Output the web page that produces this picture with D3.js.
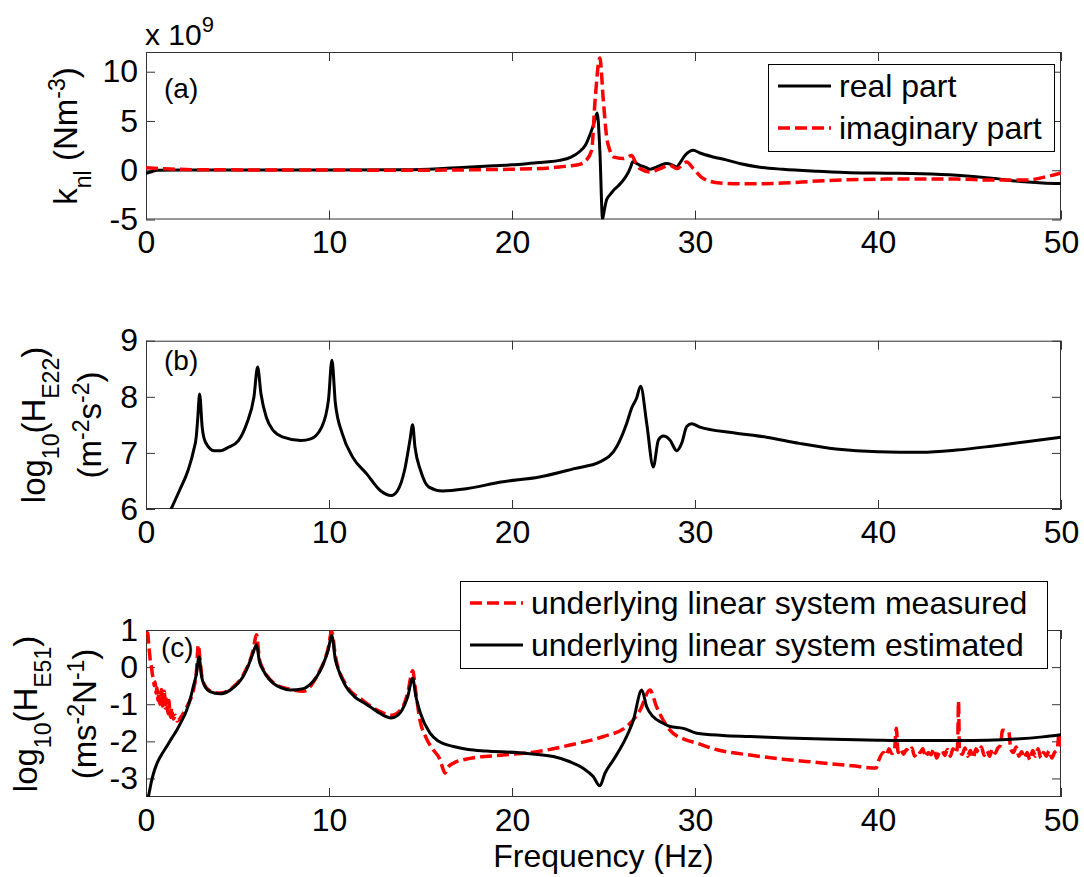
<!DOCTYPE html>
<html>
<head>
<meta charset="utf-8">
<script src="https://cdn.jsdelivr.net/npm/d3@7"></script>
<style>
  body { margin: 0; background: #fff; }
  svg text { font-family: "Liberation Sans", Arial, Helvetica, sans-serif; }
</style>
</head>
<body>
<svg id="fig" width="1084" height="877"></svg>
<script>
// ---- data -------------------------------------------------------------
const xTicks = [0, 10, 20, 30, 40, 50];
const yTicksA = [-5, 0, 5, 10];
const yTicksB = [6, 7, 8, 9];
const yTicksC = [-3, -2, -1, 0, 1];

// (a) nonlinear coefficient k_nl, units of 1e9 N m^-3
const freqReal = [0, 0.3, 0.6, 2, 5, 10, 14, 15, 16, 17, 18, 19, 20, 21, 21.5, 22, 22.6, 23.2, 23.7, 24.0, 24.26, 24.45, 24.54, 24.66, 24.8, 24.95, 25.05, 25.17, 25.35, 25.54, 25.8, 26.0, 26.2, 26.36, 26.5, 26.59, 26.8, 26.99, 27.3, 27.54, 27.8, 28.1, 28.45, 28.75, 29.0, 29.2, 29.45, 29.7, 29.9, 30.27, 31.0, 31.7, 32.5, 33.55, 34.8, 36.7, 38.5, 40.5, 42.4, 44.3, 46.2, 47.8, 49, 50];
const realPart = [-0.3, -0.15, 0, 0.02, 0.02, 0.02, 0.05, 0.08, 0.15, 0.25, 0.35, 0.45, 0.55, 0.7, 0.78, 0.85, 1.0, 1.3, 1.9, 2.5, 3.6, 4.6, 5.2, 5.8, 2.0, -4.95, -4.0, -3.0, -2.5, -2.05, -1.6, -1.2, -0.7, -0.2, 0.4, 0.85, 0.7, 0.5, 0.3, 0.1, 0.25, 0.5, 0.68, 0.55, 0.34, 0.8, 1.5, 1.9, 2.03, 1.75, 1.35, 1.05, 0.65, 0.3, 0.1, -0.1, -0.25, -0.3, -0.35, -0.5, -0.8, -1.15, -1.3, -1.35];
const freqImag = [0, 1, 3, 10, 15, 18, 20, 21.5, 22.6, 23.2, 23.7, 24.0, 24.35, 24.54, 24.8, 24.99, 25.17, 25.35, 25.54, 26.08, 26.3, 26.54, 26.75, 26.99, 27.54, 28.1, 28.63, 29.0, 29.55, 29.9, 30.45, 31.37, 32.9, 34.8, 36.7, 40.5, 44.3, 46.2, 48.1, 49.1, 50];
const imagPart = [0.25, 0.15, 0.05, 0.02, 0.0, 0.05, 0.1, 0.17, 0.34, 0.45, 0.6, 0.9, 2.0, 7.1, 11.4, 7.1, 3.4, 2.0, 1.35, 1.18, 1.3, 1.5, 0.8, 0.17, -0.17, 0.17, 0.51, 0.17, 0.84, 0.17, -0.84, -1.3, -1.38, -1.3, -1.1, -0.9, -0.9, -1.0, -1.0, -0.7, -0.27];

// (b) log10 of H_E22
const freqHE22 = [1.3, 1.83, 2.3, 2.6, 2.75, 2.82, 2.93, 3.07, 3.25, 3.73, 4.1, 4.5, 5.05, 5.5, 5.9, 6.1, 6.28, 6.57, 6.95, 7.5, 8.46, 9.0, 9.6, 9.97, 10.16, 10.35, 10.73, 11.3, 12.05, 12.8, 13.4, 13.75, 14.13, 14.42, 14.57, 14.7, 15.0, 15.46, 16.2, 17.5, 19.4, 21.5, 23.4, 24.8, 25.72, 26.27, 26.54, 26.8, 27.03, 27.36, 27.72, 28.0, 28.27, 28.63, 29.0, 29.27, 29.55, 29.82, 30.27, 32.1, 33.9, 35.7, 37.7, 40, 42.4, 44.3, 46.2, 48.1, 50];
const logHE22 = [5.95, 6.33, 6.69, 7.04, 7.3, 7.58, 8.05, 7.46, 7.19, 7.04, 7.04, 7.1, 7.22, 7.52, 8.0, 8.53, 8.06, 7.64, 7.4, 7.28, 7.22, 7.25, 7.46, 7.94, 8.65, 7.88, 7.34, 6.92, 6.63, 6.33, 6.24, 6.33, 6.69, 7.22, 7.5, 7.1, 6.69, 6.39, 6.32, 6.36, 6.48, 6.57, 6.72, 6.84, 7.11, 7.53, 7.8, 7.97, 8.19, 7.53, 6.75, 7.23, 7.3, 7.23, 7.04, 7.17, 7.47, 7.52, 7.46, 7.36, 7.28, 7.17, 7.07, 7.02, 7.01, 7.05, 7.12, 7.2, 7.28];

// (c) log10 of H_E51, estimated underlying linear system
const freqEst = [0.1, 0.13, 0.2, 0.28, 0.4, 0.58, 0.8, 1.13, 1.4, 1.68, 1.95, 2.22, 2.45, 2.58, 2.75, 2.9, 3.04, 3.2, 3.5, 4.04, 4.6, 5.0, 5.3, 5.6, 5.85, 6.04, 6.2, 6.4, 6.96, 7.4, 7.87, 8.6, 9.0, 9.33, 9.7, 9.95, 10.15, 10.35, 10.5, 10.9, 11.4, 11.86, 12.4, 12.8, 13.4, 13.75, 14.0, 14.3, 14.57, 14.75, 15.0, 15.52, 16.0, 16.8, 17.6, 18.6, 20.4, 22.26, 23.17, 23.9, 24.44, 24.8, 25.08, 25.54, 26.08, 26.63, 27.09, 27.36, 27.72, 28.2, 28.63, 29.36, 30.1, 31.5, 33, 35, 37, 40, 42, 44.3, 46, 47.5, 49, 50];
const estimated = [-3.6, -3.5, -3.32, -3.12, -2.88, -2.62, -2.4, -2.14, -1.92, -1.7, -1.45, -1.16, -0.8, -0.53, -0.2, 0.28, -0.26, -0.5, -0.66, -0.72, -0.62, -0.45, -0.26, 0.05, 0.38, 0.6, 0.15, -0.08, -0.44, -0.56, -0.62, -0.58, -0.45, -0.26, 0.1, 0.45, 0.85, 0.2, -0.05, -0.5, -0.8, -0.95, -1.12, -1.25, -1.37, -1.3, -1.15, -0.8, -0.3, -0.8, -1.25, -1.78, -2.0, -2.14, -2.22, -2.26, -2.31, -2.41, -2.55, -2.73, -2.95, -3.2, -2.86, -2.5, -2.05, -1.43, -0.62, -1.07, -1.34, -1.5, -1.6, -1.65, -1.78, -1.84, -1.87, -1.91, -1.94, -1.97, -1.98, -1.98, -1.97, -1.94, -1.88, -1.82];

// (c) measured underlying linear system
const freqMeas = [0.03, 0.1, 0.15, 0.2, 0.25, 0.3, 0.35, 0.4, 0.45, 0.5, 0.55, 0.6, 0.65, 0.7, 0.75, 0.8, 0.85, 0.9, 0.95, 1.0, 1.05, 1.1, 1.15, 1.2, 1.25, 1.3, 1.35, 1.4, 1.45, 1.5, 1.6, 1.7, 1.8, 1.9, 2.0, 2.2, 2.4, 2.6, 2.75, 2.86, 2.95, 3.04, 3.2, 3.5, 4.04, 4.6, 5.3, 5.85, 6.04, 6.2, 6.4, 6.96, 7.87, 8.6, 9.33, 9.95, 10.15, 10.35, 10.9, 11.86, 12.8, 13.4, 14.0, 14.3, 14.57, 14.75, 14.97, 15.3, 15.7, 16.07, 16.2, 16.34, 16.5, 16.8, 17.7, 19.5, 21.35, 23.17, 25, 26.27, 27.0, 27.54, 27.9, 28.63, 29.5, 30.1, 31.0, 33, 34.8, 36.7, 38.6, 39.9, 40.05, 40.3, 40.45, 40.6, 40.75, 40.9, 41.0, 41.1, 41.25, 41.4, 41.55, 41.7, 41.85, 42.0, 42.15, 42.3, 42.45, 42.6, 42.75, 42.9, 43.05, 43.2, 43.35, 43.5, 43.65, 43.8, 43.95, 44.1, 44.25, 44.35, 44.4, 44.45, 44.6, 44.75, 44.9, 45.05, 45.2, 45.35, 45.5, 45.65, 45.8, 45.95, 46.1, 46.25, 46.4, 46.55, 46.7, 46.8, 47.0, 47.15, 47.25, 47.4, 47.55, 47.7, 47.85, 48.0, 48.15, 48.3, 48.45, 48.6, 48.75, 48.9, 49.05, 49.2, 49.35, 49.5, 49.65, 49.8, 49.9, 50];
const measured = [0.95, 0.9, 0.6, 0.35, 0.1, 0.0, -0.2, -0.3, -0.5, -0.4, -0.7, -0.55, -0.9, -0.7, -1.0, -0.75, -0.6, -1.05, -0.8, -0.65, -1.1, -0.85, -1.0, -1.25, -0.9, -1.2, -1.35, -1.1, -1.3, -1.4, -1.3, -1.45, -1.42, -1.35, -1.28, -1.1, -0.9, -0.6, -0.15, 0.6, 0.2, -0.2, -0.48, -0.64, -0.7, -0.6, -0.22, 0.45, 0.87, 0.2, -0.05, -0.42, -0.6, -0.65, -0.25, 0.5, 0.95, 0.3, -0.45, -0.9, -1.2, -1.3, -1.1, -0.7, -0.1, -0.7, -1.43, -1.9, -2.23, -2.5, -2.7, -2.86, -2.7, -2.59, -2.46, -2.37, -2.28, -2.1, -1.87, -1.6, -1.16, -0.62, -1.07, -1.7, -1.96, -2.05, -2.2, -2.37, -2.48, -2.57, -2.66, -2.72, -2.5, -2.3, -2.38, -2.2, -2.33, -2.25, -1.65, -2.3, -2.2, -2.35, -2.22, -2.28, -2.18, -2.4, -2.26, -2.3, -2.2, -2.42, -2.3, -2.36, -2.2, -2.45, -2.3, -2.25, -2.38, -2.22, -2.4, -2.2, -2.32, -2.1, -0.92, -2.2, -2.35, -2.18, -2.4, -2.25, -2.45, -2.2, -2.3, -2.15, -2.38, -2.25, -2.4, -2.2, -2.32, -2.18, -2.1, -1.7, -1.72, -1.75, -2.2, -2.3, -2.15, -2.4, -2.28, -2.45, -2.3, -2.5, -2.25, -2.4, -2.2, -2.45, -2.3, -2.4, -2.25, -2.45, -2.3, -2.2, -1.75, -2.3];

// ---- layout -----------------------------------------------------------
const svg = d3.select('#fig');
const X0 = 146, X1 = 1061;
const FONT = 32;
const DASH = '12,5';
const x = d3.scaleLinear().domain([0, 50]).range([X0, X1]);
const zip = (fs, vs) => fs.map((f, i) => [f, vs[i]]);

function makePanel(id, top, bottom, yDomain, yTicks) {
  const y = d3.scaleLinear().domain(yDomain).range([bottom, top]);
  const g = svg.append('g').attr('class', 'panel-' + id);

  svg.append('clipPath').attr('id', 'clip-' + id)
    .append('rect').attr('x', X0).attr('y', top)
    .attr('width', X1 - X0).attr('height', bottom - top);

  const styleAxis = sel => {
    sel.select('.domain').remove();
    sel.attr('font-size', FONT).attr('font-family', null);
    sel.selectAll('line').attr('stroke', '#333').attr('stroke-width', 1);
    sel.selectAll('text').attr('fill', '#000');
  };

  g.append('g').attr('transform', `translate(0,${bottom})`)
    .call(d3.axisBottom(x).tickValues(xTicks).tickSize(-9).tickPadding(11).tickFormat(d => String(d)))
    .call(styleAxis);
  g.append('g').attr('transform', `translate(0,${top})`)
    .call(d3.axisTop(x).tickValues(xTicks).tickSize(-9).tickFormat(''))
    .call(styleAxis);
  g.append('g').attr('transform', `translate(${X0},0)`)
    .call(d3.axisLeft(y).tickValues(yTicks).tickSize(-9).tickPadding(8).tickFormat(d => String(d)))
    .call(styleAxis);
  g.append('g').attr('transform', `translate(${X1},0)`)
    .call(d3.axisRight(y).tickValues(yTicks).tickSize(-9).tickFormat(''))
    .call(styleAxis);

  g.append('rect').attr('x', X0 + 0.5).attr('y', top + 0.5)
    .attr('width', X1 - X0 - 1).attr('height', bottom - top - 1)
    .attr('fill', 'none').attr('stroke', '#333').attr('stroke-width', 1);

  const plot = g.append('g').attr('clip-path', `url(#clip-${id})`);
  return { g, y, plot, top, bottom };
}

function drawLine(panel, pts, color, dashed) {
  const line = d3.line().curve(d3.curveMonotoneX)
    .x(d => x(d[0])).y(d => panel.y(d[1]));
  panel.plot.append('path').datum(pts)
    .attr('d', line)
    .attr('fill', 'none')
    .attr('stroke', color)
    .attr('stroke-width', dashed ? 3.5 : 3)
    .attr('stroke-linejoin', 'round')
    .attr('stroke-dasharray', dashed ? DASH : null);
}

// Rotated y-axis label built from runs of [text, kind] where kind is
// 'n' (normal), 'sub' or 'sup'.
function yLabel(cx, cy, runs) {
  const t = svg.append('text')
    .attr('transform', `translate(${cx},${cy}) rotate(-90)`)
    .attr('text-anchor', 'middle')
    .attr('font-size', 33)
    .attr('fill', '#000');
  let shift = 0;
  runs.forEach(([s, kind]) => {
    const target = kind === 'sub' ? 14 : kind === 'sup' ? -12 : 0;
    t.append('tspan')
      .attr('dy', target - shift)
      .attr('font-size', kind === 'n' ? 33 : 23)
      .text(s);
    shift = target;
  });
}

function legend(bx, by, bw, bh, items) {
  const lg = svg.append('g');
  lg.append('rect').attr('x', bx + 0.5).attr('y', by + 0.5)
    .attr('width', bw).attr('height', bh)
    .attr('fill', '#fff').attr('stroke', '#000').attr('stroke-width', 1);
  items.forEach((it, i) => {
    const ly = by + 22 + i * 42;
    lg.append('line').attr('x1', bx + 10).attr('x2', bx + 63)
      .attr('y1', ly).attr('y2', ly)
      .attr('stroke', it.color).attr('stroke-width', it.dashed ? 3.5 : 3)
      .attr('stroke-dasharray', it.dashed ? DASH : null);
    lg.append('text').attr('x', bx + 71).attr('y', ly + 11)
      .attr('font-size', FONT).attr('fill', '#000').text(it.label);
  });
}

// ---- panel (a) ----
const pA = makePanel('a', 52, 219.5, [-5, 12], yTicksA);
drawLine(pA, zip(freqReal, realPart), '#000', false);
drawLine(pA, zip(freqImag, imagPart), '#f00', true);
svg.append('text').attr('x', 164).attr('y', 98).attr('font-size', 28).text('(a)');
const exp = svg.append('text').attr('x', 145).attr('y', 45).attr('font-size', 30).attr('fill', '#000');
exp.append('tspan').text('x 10');
exp.append('tspan').attr('dy', -13).attr('font-size', 22).text('9');
yLabel(77, 136, [['k', 'n'], ['nl', 'sub'], [' (Nm', 'n'], ['-3', 'sup'], [')', 'n']]);
legend(768, 64, 286, 87, [
  { label: 'real part', color: '#000', dashed: false },
  { label: 'imaginary part', color: '#f00', dashed: true }
]);

// ---- panel (b) ----
const pB = makePanel('b', 340.7, 509, [6, 9], yTicksB);
drawLine(pB, zip(freqHE22, logHE22), '#000', false);
svg.append('text').attr('x', 164).attr('y', 370).attr('font-size', 28).text('(b)');
yLabel(45, 425, [['log', 'n'], ['10', 'sub'], ['(H', 'n'], ['E22', 'sub'], [')', 'n']]);
yLabel(101, 425, [['(m', 'n'], ['-2', 'sup'], ['s', 'n'], ['-2', 'sup'], [')', 'n']]);

// ---- panel (c) ----
const pC = makePanel('c', 630, 797, [-3.5, 1], yTicksC);
drawLine(pC, zip(freqMeas, measured), '#f00', true);
drawLine(pC, zip(freqEst, estimated), '#000', false);
svg.append('text').attr('x', 161).attr('y', 657).attr('font-size', 28).text('(c)');
yLabel(37, 714, [['log', 'n'], ['10', 'sub'], ['(H', 'n'], ['E51', 'sub'], [')', 'n']]);
yLabel(96, 714, [['(ms', 'n'], ['-2', 'sup'], ['N', 'n'], ['-1', 'sup'], [')', 'n']]);
legend(460, 581, 587, 87, [
  { label: 'underlying linear system measured', color: '#f00', dashed: true },
  { label: 'underlying linear system estimated', color: '#000', dashed: false }
]);

svg.append('text').attr('x', (X0 + X1) / 2).attr('y', 867)
  .attr('text-anchor', 'middle').attr('font-size', FONT).text('Frequency (Hz)');
</script>
</body>
</html>
